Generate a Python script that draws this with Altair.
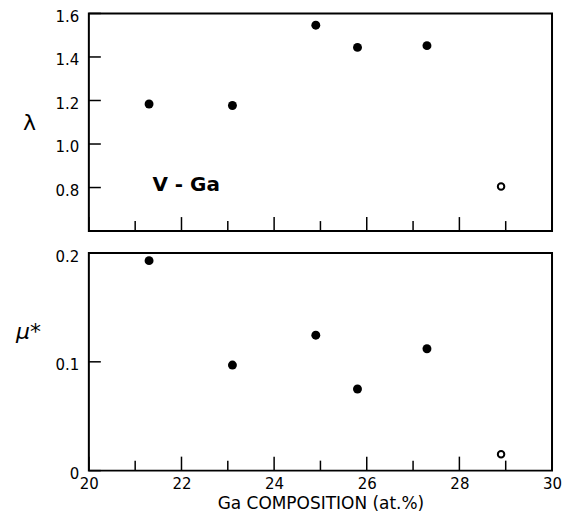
import altair as alt
import pandas as pd

ga = [21.3, 23.1, 24.9, 25.8, 27.3, 28.9]
lam = [1.184, 1.177, 1.546, 1.444, 1.452, 0.805]
mu = [0.193, 0.097, 0.1245, 0.075, 0.112, 0.015]
status = ["filled", "filled", "filled", "filled", "filled", "open"]

x_major = [20, 22, 24, 26, 28, 30]
x_minor = [21, 23, 25, 27, 29]
lam_ticks = [0.8, 1.0, 1.2, 1.4, 1.6]
mu_ticks = [0.0, 0.1, 0.2]

label_text = ["V - Ga"]
label_x = [22.1]
label_y = [0.81]

df = pd.DataFrame({"ga": ga, "lam": lam, "mu": mu, "status": status})
lab = pd.DataFrame({"x": label_x, "y": label_y, "t": label_text})
xmaj = pd.DataFrame({"v": x_major})
xmin = pd.DataFrame({"v": x_minor})

FONT = "DejaVu Sans"
W, H = 464, 218

xscale = alt.Scale(domain=[20, 30], nice=False, zero=False)


def xaxis(show_labels):
    kw = dict(
        values=x_major,
        ticks=False,
        domain=False,
        grid=False,
        labelFlush=False,
        labelFont=FONT,
        labelFontSize=15,
        labelColor="black",
        labelPadding=6,
        titleFont=FONT,
        titleFontSize=17,
        titleFontWeight="normal",
        titleColor="black",
        titlePadding=4,
    )
    if show_labels:
        kw["title"] = "Ga COMPOSITION (at.%)"
    else:
        kw["labels"] = False
        kw["title"] = None
    return alt.Axis(**kw)


def yaxis(values, fmt, title, tx, ty, italic):
    return alt.Axis(
        values=values,
        format=fmt,
        ticks=False,
        domain=False,
        grid=False,
        labelFlush=False,
        labelFont=FONT,
        labelFontSize=15,
        labelColor="black",
        labelPadding=10,
        labelOffset=3,
        title=title,
        titleFont=FONT,
        titleFontSize=22,
        titleFontWeight="normal",
        titleFontStyle="italic" if italic else "normal",
        titleColor="black",
        titleAngle=0,
        titleAlign="center",
        titleBaseline="middle",
        titleX=tx,
        titleY=ty,
    )


def panel(field, ydomain, yvals, yax, show_x, with_label):
    yscale = alt.Scale(domain=ydomain, nice=False, zero=False)
    X = alt.X("ga:Q", scale=xscale, axis=xaxis(show_x))
    Y = alt.Y(f"{field}:Q", scale=yscale, axis=yax)
    filled = alt.Chart(df).transform_filter("datum.status == 'filled'").mark_circle(
        size=80, color="black", opacity=1
    ).encode(x=X, y=Y)
    opened = alt.Chart(df).transform_filter("datum.status == 'open'").mark_point(
        shape="circle", size=42, strokeWidth=2, color="black", filled=False, opacity=1
    ).encode(x=X, y=Y)
    # inward ticks
    ytk = alt.Chart(pd.DataFrame({"v": yvals})).mark_rule(color="black", strokeWidth=1.5).encode(
        y=alt.Y("v:Q", scale=yscale, axis=yax), x=alt.value(0), x2=alt.value(12)
    )
    xmajor = alt.Chart(xmaj).mark_rule(color="black", strokeWidth=1.5).encode(
        x=alt.X("v:Q", scale=xscale, axis=xaxis(show_x)), y=alt.value(H), y2=alt.value(H - 14)
    )
    xminor = alt.Chart(xmin).mark_rule(color="black", strokeWidth=1.5).encode(
        x=alt.X("v:Q", scale=xscale, axis=xaxis(show_x)), y=alt.value(H), y2=alt.value(H - 10)
    )
    layers = [filled, opened, ytk, xmajor, xminor]
    if with_label:
        txt = alt.Chart(lab).mark_text(
            font=FONT, fontSize=20, fontWeight="bold", color="black", align="center", baseline="middle"
        ).encode(
            x=alt.X("x:Q", scale=xscale, axis=xaxis(show_x)),
            y=alt.Y("y:Q", scale=yscale, axis=yax),
            text="t:N",
        )
        layers.append(txt)
    return alt.layer(*layers).properties(width=W, height=H)


top = panel("lam", [0.6, 1.6], lam_ticks, yaxis(lam_ticks, ".1f", "λ", -60, 109, False), False, True)
bottom = panel("mu", [0.0, 0.2], mu_ticks, yaxis(mu_ticks, ".1~f", "μ*", -61, 79, True), True, False)

chart = alt.vconcat(top, bottom, spacing=22, bounds="flush").properties(
    padding={"left": 6, "top": 0, "right": 0, "bottom": 4},
    background="white",
).configure_view(stroke="black", strokeWidth=2)

chart.save("out.html", embed_options={"renderer": "svg", "actions": False})
